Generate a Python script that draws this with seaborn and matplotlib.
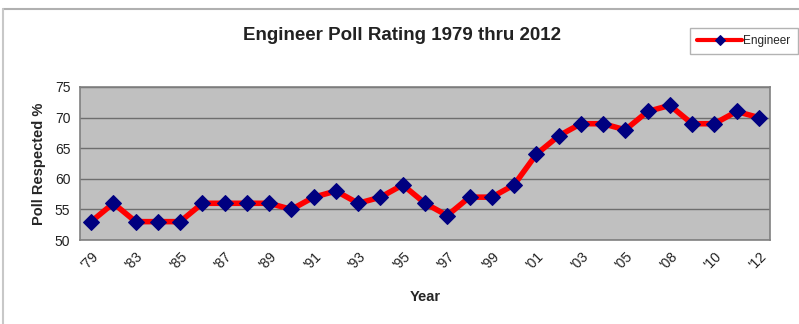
import numpy as np
import pandas as pd
import matplotlib
matplotlib.use("Agg")
import matplotlib.pyplot as plt
import seaborn as sns
from matplotlib.lines import Line2D

years = ["'79", "'81", "'83", "'84", "'85", "'86", "'87", "'88", "'89", "'90",
         "'91", "'92", "'93", "'94", "'95", "'96", "'97", "'98", "'99", "'00",
         "'01", "'02", "'03", "'04", "'05", "'06", "'08", "'09", "'10", "'11", "'12"]
respected = [53, 56, 53, 53, 53, 56, 56, 56, 56, 55,
             57, 58, 56, 57, 59, 56, 54, 57, 57, 59,
             64, 67, 69, 69, 68, 71, 72, 69, 69, 71, 70]
yticks = [50, 55, 60, 65, 70, 75]

df = pd.DataFrame({"pos": np.arange(len(years)), "year": years, "val": respected})

sns.set_style("white")
plt.rcParams['font.family'] = ['Liberation Sans', 'DejaVu Sans']

fig = plt.figure(figsize=(7.99, 3.24), dpi=100)
ax = fig.add_axes([80/799, 1-240/324, (770-80)/799, (240-87)/324])
ax.set_facecolor('#C0C0C0')

sns.lineplot(data=df, x="pos", y="val", ax=ax, color='#FF0000', linewidth=4,
             marker='D', markersize=8.5, markerfacecolor='#000080',
             markeredgecolor='#000080', label='Engineer')

ax.set_xlim(-0.5, len(years) - 0.5)
ax.set_ylim(50, 75)
ax.set_yticks(yticks)
ax.set_yticklabels([str(v) for v in yticks], fontsize=10, color='#222222')
ax.yaxis.grid(True, color='#6e6e6e', linewidth=1)
ax.set_axisbelow(True)

major = df["pos"].values[::2]
ax.set_xticks(major)
ax.set_xticklabels(df["year"].values[::2], rotation=45, ha='right',
                   rotation_mode='anchor', fontsize=10, color='#222222')
ax.set_xticks(np.arange(-0.5, len(years)), minor=True)
ax.tick_params(axis='x', which='major', length=0, pad=7)
ax.tick_params(axis='x', which='minor', length=4, color='#808080', width=1, direction='out')
ax.tick_params(axis='y', length=4, color='#808080', width=1, direction='out', pad=3)

for s in ax.spines.values():
    s.set_color('#808080')
    s.set_linewidth(1.2)

ax.set_xlabel('Year', fontsize=10.5, fontweight='bold', labelpad=13)
ax.set_ylabel('Poll Respected %', fontsize=10.5, fontweight='bold', labelpad=6)

fig.text(0.503, 1-35/324, 'Engineer Poll Rating 1979 thru 2012', ha='center', va='center',
         fontsize=13.5, fontweight='bold', color='#222222')

leg = ax.legend(loc='center', bbox_to_anchor=(744/799, 1-41/324),
                bbox_transform=fig.transFigure, fontsize=8.5, frameon=True,
                fancybox=False, handlelength=3.8, handletextpad=0.1,
                borderpad=0.6, borderaxespad=0)
leg.get_frame().set_edgecolor('#a0a0a0')
leg.get_frame().set_linewidth(1)
for h in leg.legend_handles:
    h.set_markersize(5)
    h.set_linewidth(3)

fig.add_artist(Line2D([3/799, 1], [1-9/324, 1-9/324], transform=fig.transFigure,
                      color='#b0b0b0', linewidth=1.5))
fig.add_artist(Line2D([3/799, 3/799], [0, 1-9/324], transform=fig.transFigure,
                      color='#c8c8c8', linewidth=1.5))

fig.savefig('out.png', dpi=100)
